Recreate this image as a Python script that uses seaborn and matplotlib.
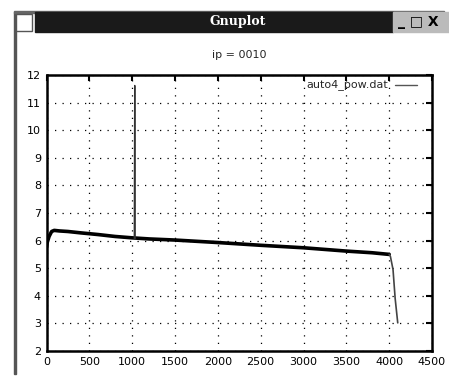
import matplotlib
matplotlib.use("Agg")
import matplotlib.pyplot as plt
import seaborn as sns
import pandas as pd
from matplotlib.patches import Rectangle

sns.set_style("white")
plt.rcParams['font.family'] = ['DejaVu Sans']

# main (noisy) part of the trace
x_main = [0, 10, 30, 60, 90, 150, 250, 400, 600, 800, 1000, 1200, 1500, 2000, 2500, 3000, 3500, 3800, 4000]
y_main = [5.75, 5.95, 6.15, 6.33, 6.37, 6.35, 6.33, 6.28, 6.22, 6.15, 6.10, 6.06, 6.02, 5.93, 5.83, 5.74, 5.62, 5.56, 5.50]
# spike and tail (thin line)
x_spike = [1025, 1030, 1035]
y_spike = [6.07, 11.62, 6.07]
x_tail = [4000, 4015, 4045, 4070, 4100]
y_tail = [5.50, 5.42, 4.95, 3.9, 3.02]

title = "ip = 0010"
legend_label = "auto4_pow.dat"
xticks = [0, 500, 1000, 1500, 2000, 2500, 3000, 3500, 4000, 4500]
yticks = [2, 3, 4, 5, 6, 7, 8, 9, 10, 11, 12]

fig = plt.figure(figsize=(4.49, 3.8), dpi=100)
ax = fig.add_axes([46.5/449, 1 - 351/380, (432 - 46.5)/449, (351 - 75)/380])

df_main = pd.DataFrame({"x": x_main, "y": y_main})
df_spike = pd.DataFrame({"x": x_spike, "y": y_spike})
df_tail = pd.DataFrame({"x": x_tail, "y": y_tail})
sns.lineplot(data=df_main, x="x", y="y", ax=ax, color="black", lw=2.6, sort=False)
sns.lineplot(data=df_spike, x="x", y="y", ax=ax, color="#333333", lw=1.0, sort=False)
sns.lineplot(data=df_tail, x="x", y="y", ax=ax, color="#444444", lw=1.2, sort=False)

ax.set_xlim(0, 4500)
ax.set_ylim(2, 12)
ax.set_xticks(xticks)
ax.set_yticks(yticks)
ax.set_xlabel("")
ax.set_ylabel("")
ax.tick_params(direction="in", length=4, width=1.5, top=True, right=True,
               labelsize=8, pad=4, colors="black")
ax.grid(True, color="black", linestyle=(0, (1, 5)), linewidth=0.9)
for s in ax.spines.values():
    s.set_linewidth(1.8)
    s.set_color("black")
ax.set_title(title, fontsize=8, pad=12)

# legend entry
ax.text(0.885, 0.965, legend_label, transform=ax.transAxes, ha="right", va="center", fontsize=8)
ax.plot([0.905, 0.96], [0.962, 0.962], transform=ax.transAxes, color="#555555", lw=1)

# window chrome
fig.patches.append(Rectangle((14/449, 1 - 374/380), 1.5/449, 362/380, transform=fig.transFigure,
                             color="#555555", zorder=0))
fig.patches.append(Rectangle((14/449, 1 - 12.5/380), 430/449, 1/380, transform=fig.transFigure,
                             color="#666666", zorder=0))
fig.patches.append(Rectangle((16/449, 1 - 31/380), 16/449, 17/380, transform=fig.transFigure,
                             facecolor="white", edgecolor="#555555", lw=1, zorder=1))
fig.patches.append(Rectangle((35/449, 1 - 32/380), 358/449, 20/380, transform=fig.transFigure,
                             color="#1a1a1a", zorder=0))
fig.patches.append(Rectangle((393/449, 1 - 32/380), 56/449, 20/380, transform=fig.transFigure,
                             color="#bbbbbb", zorder=0))
fig.text(238/449, 1 - 22/380, "Gnuplot", color="white", fontsize=9, fontweight="bold",
         ha="center", va="center", family="DejaVu Serif")
fig.text(418/449, 1 - 22/380, "_ □ X", color="black", fontsize=10, fontweight="bold",
         ha="center", va="center")

fig.savefig("out.png", dpi=100, facecolor="white")
